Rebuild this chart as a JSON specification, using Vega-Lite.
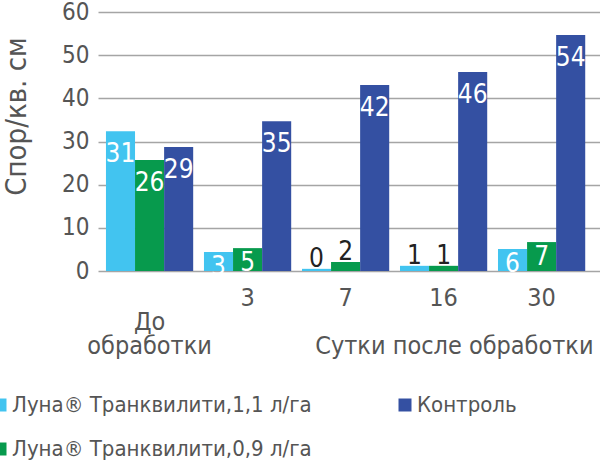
{
  "$schema": "https://vega.github.io/schema/vega-lite/v6.json",
  "width": 502,
  "height": 259,
  "autosize": "none",
  "padding": {"left": 98, "top": 12, "right": 0, "bottom": 198},
  "background": "white",
  "config": {
    "view": {"stroke": null},
    "font": "DejaVu Sans Condensed, Liberation Sans Narrow, sans-serif"
  },
  "data": {
    "values": [
      {"group": "До обработки", "series": "Луна® Транквилити,1,1 л/га", "value": 32.4, "label": "31"},
      {"group": "До обработки", "series": "Луна® Транквилити,0,9 л/га", "value": 25.7, "label": "26"},
      {"group": "До обработки", "series": "Контроль", "value": 28.7, "label": "29"},
      {"group": "3", "series": "Луна® Транквилити,1,1 л/га", "value": 4.4, "label": "3"},
      {"group": "3", "series": "Луна® Транквилити,0,9 л/га", "value": 5.3, "label": "5"},
      {"group": "3", "series": "Контроль", "value": 34.7, "label": "35"},
      {"group": "7", "series": "Луна® Транквилити,1,1 л/га", "value": 0.5, "label": "0"},
      {"group": "7", "series": "Луна® Транквилити,0,9 л/га", "value": 2.1, "label": "2"},
      {"group": "7", "series": "Контроль", "value": 43.1, "label": "42"},
      {"group": "16", "series": "Луна® Транквилити,1,1 л/га", "value": 1.2, "label": "1"},
      {"group": "16", "series": "Луна® Транквилити,0,9 л/га", "value": 1.2, "label": "1"},
      {"group": "16", "series": "Контроль", "value": 46.1, "label": "46"},
      {"group": "30", "series": "Луна® Транквилити,1,1 л/га", "value": 5.1, "label": "6"},
      {"group": "30", "series": "Луна® Транквилити,0,9 л/га", "value": 6.7, "label": "7"},
      {"group": "30", "series": "Контроль", "value": 54.7, "label": "54"}
    ]
  },
  "encoding": {
    "x": {
      "field": "group",
      "type": "nominal",
      "sort": ["До обработки", "3", "7", "16", "30"],
      "scale": {"paddingInner": 0.11, "paddingOuter": 0.116, "align": 0.35},
      "axis": {
        "title": "Сутки после обработки",
        "labelExpr": "datum.label == 'До обработки' ? ['', 'До', 'обработки'] : datum.label",
        "labelLineHeight": 24,
        "labelFontSize": 25,
        "labelPadding": 14,
        "labelAngle": 0,
        "labelColor": "#555555",
        "domain": false,
        "ticks": false,
        "titleFontSize": 25,
        "titleFontWeight": "normal",
        "titleColor": "#555555",
        "titleX": 495,
        "titleY": 82,
        "titleAlign": "right",
        "titleBaseline": "alphabetic"
      }
    },
    "xOffset": {
      "field": "series",
      "type": "nominal",
      "sort": ["Луна® Транквилити,1,1 л/га", "Луна® Транквилити,0,9 л/га", "Контроль"]
    },
    "y": {
      "field": "value",
      "type": "quantitative",
      "scale": {"domain": [0, 60]},
      "axis": {
        "values": [0, 10, 20, 30, 40, 50, 60],
        "title": "Спор/кв. см",
        "domain": false,
        "ticks": false,
        "labelPadding": 9,
        "labelFontSize": 24,
        "labelColor": "#555555",
        "gridColor": "#a5a5a5",
        "gridWidth": 1.5,
        "titleFontSize": 29,
        "titleFontWeight": "normal",
        "titleColor": "#555555",
        "titleX": -82,
        "titleY": 104,
        "titleAngle": -90,
        "titleAlign": "center",
        "titleBaseline": "middle"
      }
    }
  },
  "layer": [
    {
      "mark": {"type": "bar"},
      "encoding": {
        "color": {
          "field": "series",
          "type": "nominal",
          "scale": {
            "domain": ["Луна® Транквилити,1,1 л/га", "Контроль", "Луна® Транквилити,0,9 л/га"],
            "range": ["#42c4f0", "#3450a2", "#079a4d"]
          },
          "legend": {
            "orient": "none",
            "legendX": -109,
            "legendY": 382,
            "columns": 2,
            "direction": "horizontal",
            "title": null,
            "symbolType": "square",
            "symbolSize": 169,
            "symbolStrokeWidth": 0,
            "symbolOpacity": 1,
            "labelFontSize": 22,
            "labelColor": "#555555",
            "labelOffset": 1,
            "labelLimit": 400,
            "rowPadding": 22,
            "columnPadding": 82,
            "padding": 0
          }
        }
      }
    },
    {
      "transform": [{"filter": "datum.value >= 10"}],
      "mark": {"type": "text", "baseline": "top", "dy": 10, "fontSize": 26, "color": "white"},
      "encoding": {"text": {"field": "label"}}
    },
    {
      "transform": [{"filter": "datum.value >= 3 && datum.value < 10"}],
      "mark": {"type": "text", "baseline": "top", "dy": 2, "fontSize": 26, "color": "white"},
      "encoding": {"text": {"field": "label"}}
    },
    {
      "transform": [{"filter": "datum.value < 3"}],
      "mark": {"type": "text", "baseline": "alphabetic", "dy": -2, "fontSize": 26, "color": "#222222"},
      "encoding": {"text": {"field": "label"}}
    }
  ]
}
